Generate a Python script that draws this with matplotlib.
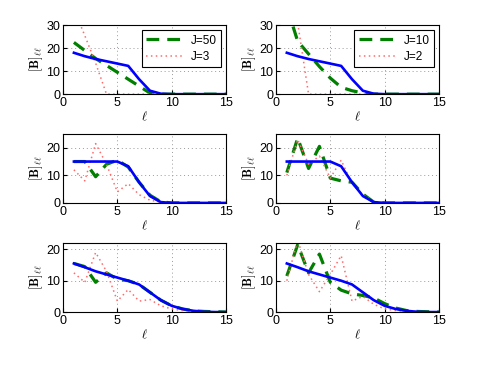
import matplotlib
matplotlib.use("Agg")
import matplotlib.pyplot as plt
import numpy as np

ell = np.arange(1, 16)

# fila 1
top_true = [18, 16.5, 15.3, 14.3, 13.3, 12.3, 6.5, 1.5, 0.2, 0, 0, 0, 0, 0, 0]
top_left_big = [22.5, 19, 15.5, 12.5, 9.5, 6.5, 3.5, 0.5, 0, 0, 0, 0, 0, 0, 0]
top_left_small = [37, 25.5, 13.5, 0, 0, 0, 0, 0, 0, 0, 0, 0, 0, 0, 0]
top_right_big = [38, 23, 17.5, 12, 7, 3, 1.5, 0.5, 0, 0, 0, 0, 0, 0, 0]
top_right_small = [60, 31, 0, 0, 0, 0, 0, 0, 0, 0, 0, 0, 0, 0, 0]

# fila 2
mid_true = [15, 15, 15, 15, 15, 13.3, 7.5, 2.5, 0.3, 0, 0, 0, 0, 0, 0]
mid_left_big = [15, 15, 9.5, 14, 15.5, 13, 7.5, 2.8, 0.4, 0, 0, 0, 0, 0, 0]
mid_left_small = [12, 8, 21.5, 14, 4, 7, 3, 1, 0.3, 0, 0, 0, 0, 0, 0]
mid_right_big = [11, 23.5, 12.5, 20.5, 9, 8, 7.5, 3.2, 0.3, 0, 0, 0, 0, 0, 0]
mid_right_small = [10, 23, 14, 17, 9, 15.5, 7, 3, 0.5, 0, 0, 0, 0, 0, 0]

# fila 3
bot_true = [15.5, 14.3, 13, 12, 11, 10, 8.8, 6.3, 3.8, 2, 1, 0.4, 0.1, 0, 0]
bot_left_big = [15.5, 14.5, 9.5, 12.5, 10.5, 10, 8.8, 6.3, 3.8, 2, 1, 0.4, 0.2, 0.1, 0]
bot_left_small = [12.5, 9.5, 19, 13, 3.5, 7.2, 3.5, 4, 2, 1, 0.5, 0.2, 0.1, 0, 0]
bot_right_big = [11.5, 21.5, 12.5, 18.5, 9.5, 7, 5.8, 5.3, 4.5, 2.7, 1.3, 0.5, 0.2, 0.1, 0]
bot_right_small = [10, 23, 12, 6.5, 12, 18, 3.5, 5, 2.5, 1, 0.5, 0.2, 0.1, 0, 0]

panels = [
    (top_true, top_left_big, top_left_small, 30, ["J=50", "J=3"]),
    (top_true, top_right_big, top_right_small, 30, ["J=10", "J=2"]),
    (mid_true, mid_left_big, mid_left_small, 25, None),
    (mid_true, mid_right_big, mid_right_small, 25, None),
    (bot_true, bot_left_big, bot_left_small, 22, None),
    (bot_true, bot_right_big, bot_right_small, 22, None),
]

plt.rcParams["font.family"] = ["Liberation Sans", "DejaVu Sans"]
plt.rcParams["mathtext.fontset"] = "cm"

fig = plt.figure(figsize=(4.85, 3.65), dpi=100)
lefts = [0.130, 0.569]
bottoms = [0.742, 0.444, 0.145]
w, h = 0.336, 0.189

for k, (truth, big, small, ymax, labels) in enumerate(panels):
    row, col = divmod(k, 2)
    ax = fig.add_axes([lefts[col], bottoms[row], w, h])
    l_big, = ax.plot(ell, big, "--", color="#007f00", lw=2.3, dashes=(4, 2.5))
    l_small, = ax.plot(ell, small, color="#ff6b6b", lw=1.1, dashes=(1, 2.2))
    ax.plot(ell, truth, "-", color="#0000ff", lw=1.9)
    ax.set_xlim(0, 15)
    ax.set_ylim(0, ymax)
    ax.set_xticks([0, 5, 10, 15])
    ax.set_yticks([0, 10, 20] if ymax < 30 else [0, 10, 20, 30])
    ax.grid(True, color="#9a9a9a", lw=0.7, dashes=(1, 3))
    ax.tick_params(direction="in", labelsize=9, length=3, pad=2)
    ax.set_xlabel(r"$\ell$", fontsize=9, labelpad=1)
    ax.set_ylabel(r"$[\mathbf{B}]_{\ell\ell}$", fontsize=9, labelpad=1)
    for s in ax.spines.values():
        s.set_linewidth(0.8)
    if labels:
        leg = ax.legend([l_big, l_small], labels, loc="upper right", fontsize=8.5,
                        fancybox=False, edgecolor="black", framealpha=1,
                        handlelength=3.3, borderpad=0.35, labelspacing=0.35,
                        borderaxespad=0.45, handletextpad=0.5)
        leg.get_frame().set_linewidth(0.8)

fig.savefig("out.png", dpi=100)
